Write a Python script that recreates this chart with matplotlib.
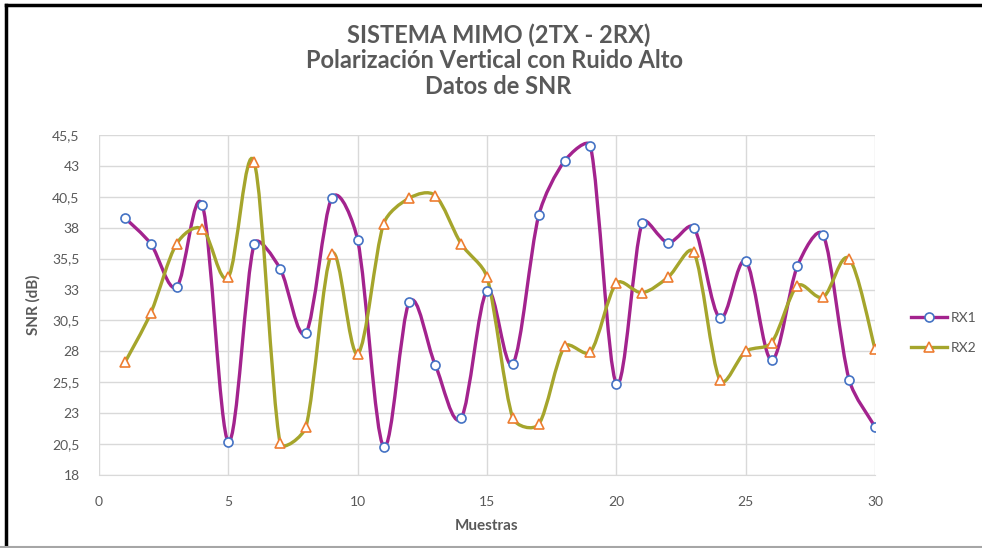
import numpy as np
import matplotlib
matplotlib.use("Agg")
import matplotlib.pyplot as plt
from matplotlib.path import Path
from matplotlib.patches import PathPatch
from matplotlib.lines import Line2D
from matplotlib.ticker import FuncFormatter, MultipleLocator, FixedLocator

# Data
muestras = list(range(1, 31))
rx1 = [38.8, 36.7, 33.2, 39.8, 20.7, 36.7, 34.7, 29.5, 40.4, 37.0,
       20.3, 32.0, 26.9, 22.6, 32.9, 27.0, 39.0, 43.4, 44.6, 25.4,
       38.4, 36.8, 38.0, 30.7, 35.3, 27.3, 34.9, 37.4, 25.7, 21.9]
rx2 = [27.1, 31.1, 36.7, 37.9, 34.0, 43.3, 20.6, 21.9, 35.9, 27.8,
       38.3, 40.4, 40.6, 36.7, 34.0, 22.6, 22.1, 28.4, 27.95, 33.5,
       32.75, 34.0, 36.0, 25.7, 28.0, 28.7, 33.3, 32.4, 35.5, 28.2]
y_ticks = [18, 20.5, 23, 25.5, 28, 30.5, 33, 35.5, 38, 40.5, 43, 45.5]

TEXT = "#595959"
C_RX1 = "#A3238E"
C_RX2 = "#A5A52C"
M_RX1 = "#4472C4"
M_RX2 = "#ED7D31"
FONT = ["Lato", "DejaVu Sans"]

plt.rcParams["font.family"] = FONT

# axes box in pixels
AX_W, AX_H = 776, 340
X_RANGE, Y_RANGE = 30.0, 27.5


def smooth_path(xs, ys):
    # Excel-like smoothed line: Catmull-Rom tangents (1/6 of neighbour chord),
    # clamped to a third of the segment length in screen space
    sx, sy = AX_W / X_RANGE, AX_H / Y_RANGE
    pts = np.column_stack([np.array(xs) * sx, np.array(ys) * sy]).astype(float)
    n = len(pts)
    tans = []
    for i in range(n):
        a = pts[i - 1] if i > 0 else pts[i]
        b = pts[i + 1] if i < n - 1 else pts[i]
        tans.append((b - a) / 6.0)
    verts = [pts[0]]
    codes = [Path.MOVETO]
    for i in range(n - 1):
        lim = np.hypot(*(pts[i + 1] - pts[i])) / 3.0
        t1, t2 = tans[i], tans[i + 1]
        m1, m2 = np.hypot(*t1), np.hypot(*t2)
        if m1 > lim:
            t1 = t1 * lim / m1
        if m2 > lim:
            t2 = t2 * lim / m2
        verts += [pts[i] + t1, pts[i + 1] - t2, pts[i + 1]]
        codes += [Path.CURVE4] * 3
    verts = np.array(verts) / [sx, sy]
    return Path(verts, codes)


fig = plt.figure(figsize=(9.82, 5.48), dpi=100)
ax = fig.add_axes([99 / 982, 73 / 548, AX_W / 982, AX_H / 548])

for ys, lc in [(rx1, C_RX1), (rx2, C_RX2)]:
    ax.add_patch(PathPatch(smooth_path(muestras, ys), facecolor="none",
                           edgecolor=lc, lw=2.4, capstyle="round", zorder=3))

ax.plot(muestras, rx1, linestyle="none", marker="o", ms=6.5, mfc="white",
        mec=M_RX1, mew=1.2, zorder=4)
ax.plot(muestras, rx2, linestyle="none", marker="^", ms=6.5, mfc="white",
        mec=M_RX2, mew=1.2, zorder=4)

ax.set_xlim(0, 30)
ax.set_ylim(18, 45.5)
ax.xaxis.set_major_locator(MultipleLocator(5))
ax.yaxis.set_major_locator(FixedLocator(y_ticks))
ax.yaxis.set_major_formatter(FuncFormatter(
    lambda v, p: ("%g" % v).replace(".", ",")))
ax.grid(True, color="#D9D9D9", lw=1)
ax.set_axisbelow(True)
for s in ax.spines.values():
    s.set_visible(False)
ax.spines["bottom"].set_visible(True)
ax.spines["bottom"].set_color("#D9D9D9")
ax.tick_params(axis="y", length=0, labelsize=10, labelcolor=TEXT, pad=14)
ax.tick_params(axis="x", length=0, labelsize=10, labelcolor=TEXT, pad=15)

ax.set_xlabel("Muestras", fontsize=11, fontweight="bold", color=TEXT, labelpad=8)
ax.set_ylabel("SNR (dB)", fontsize=11, fontweight="bold", color=TEXT, labelpad=8)

fig.text(0.508, 0.935, "SISTEMA MIMO (2TX - 2RX)", ha="center", va="center",
         fontsize=17, fontweight="bold", color=TEXT)
fig.text(0.504, 0.890, "Polarización Vertical con Ruido Alto", ha="center",
         va="center", fontsize=17, fontweight="bold", color=TEXT)
fig.text(0.507, 0.843, "Datos de SNR", ha="center", va="center",
         fontsize=17, fontweight="bold", color=TEXT)

handles = [
    Line2D([], [], color=C_RX1, lw=2.4, marker="o", ms=6.5, mfc="white",
           mec=M_RX1, mew=1.2),
    Line2D([], [], color=C_RX2, lw=2.4, marker="^", ms=6.5, mfc="white",
           mec=M_RX2, mew=1.2),
]
leg = fig.legend(handles, ["RX1", "RX2"], loc="center left",
                 bbox_to_anchor=(898 / 982, 1 - 333 / 548), frameon=False,
                 fontsize=10, labelcolor=TEXT, handlelength=2.6,
                 handletextpad=0.3, labelspacing=1.3)

# chart border lines
fig.add_artist(Line2D([6 / 982, 6 / 982], [0, 1 - 5 / 548], color="black", lw=2.5))
fig.add_artist(Line2D([6 / 982, 1], [1 - 5 / 548, 1 - 5 / 548], color="black", lw=2.5))
fig.add_artist(Line2D([0, 1], [1 / 548, 1 / 548], color="#A6A6A6", lw=1.5))

fig.savefig("out.png", dpi=100)
